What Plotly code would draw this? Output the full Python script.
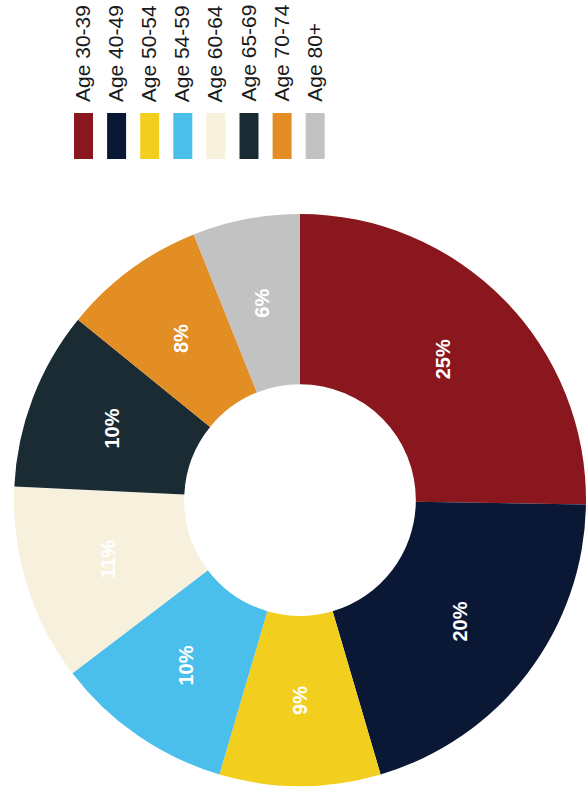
import math
import plotly.graph_objects as go

# Age distribution (share of respondents, %)
age_groups = ["Age 30-39", "Age 40-49", "Age 50-54", "Age 54-59",
              "Age 60-64", "Age 65-69", "Age 70-74", "Age 80+"]
shares = [25, 20, 9, 10, 11, 10, 8, 6]
colors = ["#8B171E", "#0A1735", "#F2CE1F", "#4BBFEC",
          "#F6F0DD", "#1B2B33", "#E38E25", "#C2C2C2"]

W, H = 586, 802
FONT = "Liberation Sans, Arial, sans-serif"

# donut geometry in pixels
cx, cy, R = 300, 500, 286
hole = 0.405
label_r = R * (1 + hole) / 2


def px(x):
    return x / W


def py(y):
    return 1 - y / H


fig = go.Figure(go.Pie(
    labels=age_groups,
    values=shares,
    marker=dict(colors=colors, line=dict(width=0)),
    hole=hole,
    sort=False,
    direction="clockwise",
    rotation=0,
    textinfo="none",
    hoverinfo="label+value",
    showlegend=False,
    domain=dict(x=[px(cx - R), px(cx + R)], y=[py(cy + R), py(cy - R)]),
))

annotations = []
shapes = []

# rotated percentage labels at each slice's mid-angle
total = sum(shares)
cum = 0
for share in shares:
    mid = (cum + share / 2) / total * 2 * math.pi
    cum += share
    lx = cx + label_r * math.sin(mid)
    ly = cy - label_r * math.cos(mid)
    annotations.append(dict(
        x=px(lx), y=py(ly), xref="paper", yref="paper",
        text=f"<b>{share}%</b>", showarrow=False, textangle=-90,
        xanchor="center", yanchor="middle",
        font=dict(family=FONT, size=20, color="white"),
    ))

# legend: colour swatches with rotated captions above them
leg_x0, leg_step, sw_w = 74, 33.1, 19
sw_top, sw_bot, text_bot = 113, 159, 104
for i, (name, col) in enumerate(zip(age_groups, colors)):
    x0 = leg_x0 + i * leg_step
    shapes.append(dict(
        type="rect", xref="paper", yref="paper",
        x0=px(x0), x1=px(x0 + sw_w), y0=py(sw_bot), y1=py(sw_top),
        fillcolor=col, line=dict(width=0),
    ))
    annotations.append(dict(
        x=px(x0 + sw_w / 2 - 1), y=py(text_bot), xref="paper", yref="paper",
        text=name, showarrow=False, textangle=-90,
        xanchor="center", yanchor="bottom",
        font=dict(family=FONT, size=21, color="#1a1a1a"),
    ))

fig.update_layout(
    width=W, height=H,
    margin=dict(l=0, r=0, t=0, b=0),
    paper_bgcolor="white",
    plot_bgcolor="white",
    annotations=annotations,
    shapes=shapes,
)

fig.write_html("out.html")
